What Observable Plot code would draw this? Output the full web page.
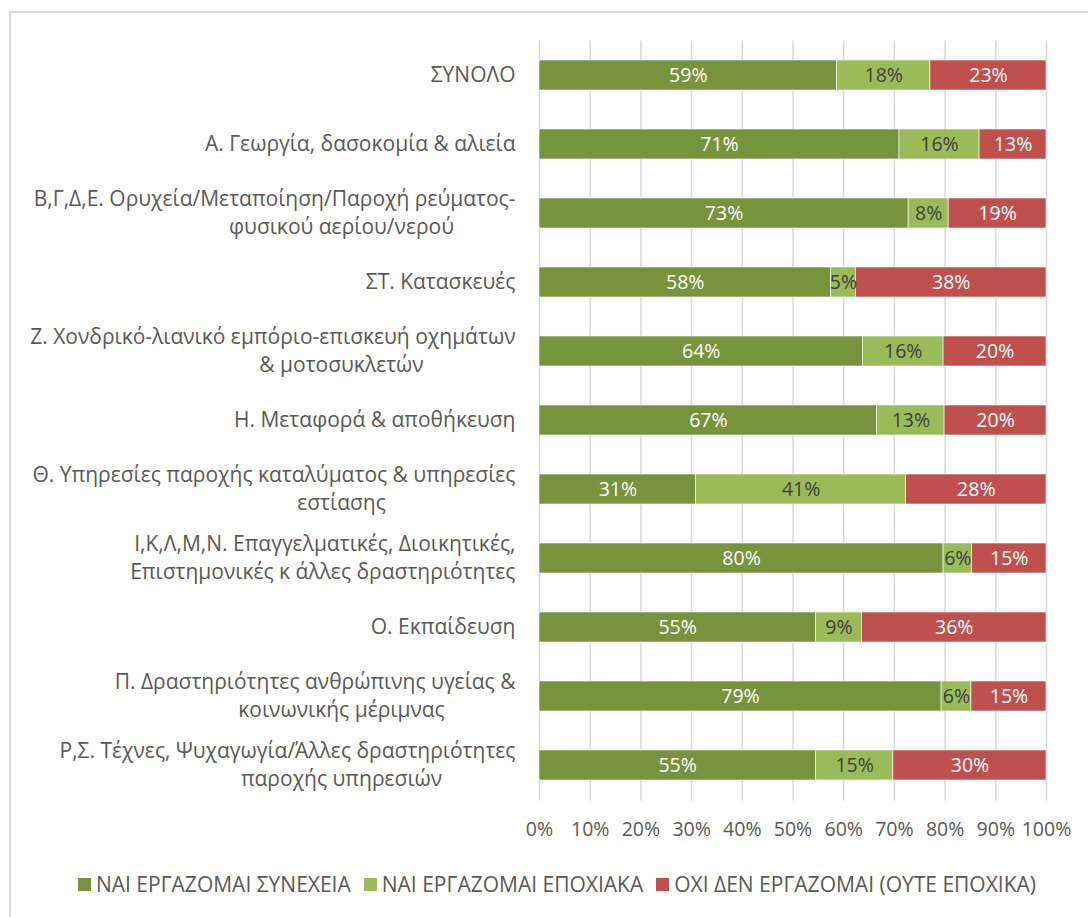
<!DOCTYPE html>
<html>
<head>
<meta charset="utf-8">
<script src="https://cdn.jsdelivr.net/npm/d3@7"></script>
<script src="https://cdn.jsdelivr.net/npm/@observablehq/plot@0.6"></script>
<style>
  html, body { margin: 0; padding: 0; background: #fff; overflow: hidden; width: 1088px; height: 917px; }
  #frame { position: absolute; left: 9px; top: 11px; width: 1200px; height: 1000px; border: 2px solid #d9d9d9; box-sizing: border-box; }
  #chart { position: absolute; left: 0; top: 0; }
  #legend { position: absolute; left: 0; top: 870px; width: 1114px; display: flex; justify-content: center; gap: 13px;
            font-family: "Open Sans", sans-serif; font-size: 21px; color: #595959; line-height: 28px; }
  .item { display: flex; align-items: center; white-space: nowrap; }
  .sw { width: 13px; height: 13px; margin-right: 5px; display: inline-block; }
</style>
</head>
<body>
<div id="frame"></div>
<div id="chart"></div>
<div id="legend"></div>
<script>
const categories = [
  "ΣΥΝΟΛΟ",
  "Α. Γεωργία, δασοκομία & αλιεία",
  "Β,Γ,Δ,Ε. Ορυχεία/Μεταποίηση/Παροχή ρεύματος-\nφυσικού αερίου/νερού",
  "ΣΤ. Κατασκευές",
  "Ζ. Χονδρικό-λιανικό εμπόριο-επισκευή οχημάτων\n& μοτοσυκλετών",
  "Η. Μεταφορά & αποθήκευση",
  "Θ. Υπηρεσίες παροχής καταλύματος & υπηρεσίες\nεστίασης",
  "Ι,Κ,Λ,Μ,Ν. Επαγγελματικές, Διοικητικές,\nΕπιστημονικές κ άλλες δραστηριότητες",
  "Ο. Εκπαίδευση",
  "Π. Δραστηριότητες ανθρώπινης υγείας &\nκοινωνικής μέριμνας",
  "Ρ,Σ. Τέχνες, Ψυχαγωγία/Άλλες δραστηριότητες\nπαροχής υπηρεσιών"
];
const series = ["ΝΑΙ ΕΡΓΑΖΟΜΑΙ ΣΥΝΕΧΕΙΑ", "ΝΑΙ ΕΡΓΑΖΟΜΑΙ ΕΠΟΧΙΑΚΑ", "ΟΧΙ ΔΕΝ ΕΡΓΑΖΟΜΑΙ (ΟΥΤΕ ΕΠΟΧΙΚΑ)"];
const continuous = [58.7, 71.0, 72.8, 57.5, 63.8, 66.6, 30.9, 79.7, 54.5, 79.3, 54.5];
const seasonal   = [18.4, 15.8,  7.9,  4.9, 15.9, 13.3, 41.4,  5.6,  9.1,  5.9, 15.3];
const notWorking = [22.9, 13.2, 19.3, 37.6, 20.3, 20.1, 27.7, 14.7, 36.4, 14.8, 30.2];
const xTicks = [0, 10, 20, 30, 40, 50, 60, 70, 80, 90, 100];
const colors = ["#77933C", "#9BBB59", "#C0504D"];
const labelColors = ["#ffffff", "#404040", "#ffffff"];

const FONT = '"Open Sans", sans-serif';
const FS = 21;        // category labels
const FN = 19.5;      // numbers
const TEXT = "#595959";

const valueSets = [continuous, seasonal, notWorking];
const data = [];
categories.forEach((c, i) => {
  series.forEach((s, j) => data.push({category: c, series: s, value: valueSets[j][i], si: j}));
});

// category label lines
const ctx = document.createElement("canvas").getContext("2d");
ctx.font = `${FS}px ${FONT}`;
const lines = [];
categories.forEach(c => {
  const parts = c.split("\n");
  parts.forEach((t, k) => {
    const multi = parts.length > 1;
    const w = ctx.measureText(t).width;
    lines.push({category: c, text: t, k, multi, center: multi && w < 320});
  });
});
const single = lines.filter(d => !d.multi);
const firstR = lines.filter(d => d.multi && d.k === 0 && !d.center);
const secondR = lines.filter(d => d.multi && d.k === 1 && !d.center);
const secondC = lines.filter(d => d.multi && d.k === 1 && d.center);
const firstC = lines.filter(d => d.multi && d.k === 0 && d.center);

const LS = 13.8;
const labelOpts = {y: "category", text: "text", frameAnchor: "left", fill: TEXT, fontSize: FS};

const W = 1088, H = 850;
const chart = Plot.plot({
  width: W,
  height: H,
  marginLeft: 539,
  marginRight: 42,
  marginTop: 40.5,
  marginBottom: H - 800.5,
  style: {fontFamily: FONT, fontSize: FN + "px", color: TEXT, background: "transparent"},
  x: {domain: [0, 100], ticks: xTicks, tickFormat: d => d + "%", label: null},
  y: {domain: categories, paddingInner: 0.565, paddingOuter: 0.2825, axis: null},
  color: {domain: series, range: colors},
  marks: [
    Plot.gridX(xTicks, {stroke: "#d9d9d9", strokeOpacity: 1, strokeWidth: 1.5}),
    Plot.axisX({ticks: xTicks, tickFormat: d => d + "%", tickSize: 0, tickPadding: 21, fill: TEXT, fontSize: FN, label: null}),
    Plot.barX(data, Plot.stackX({x: "value", y: "category", fill: "series", order: series, stroke: "#fff", strokeWidth: 0.6})),
    Plot.text(data, Plot.stackX({x: "value", y: "category", z: "series", order: series,
      text: d => Math.round(d.value) + "%", fill: d => labelColors[d.si], fontSize: FN})),
    Plot.text(single, {...labelOpts, textAnchor: "end", dx: -24}),
    Plot.text(firstR, {...labelOpts, textAnchor: "end", dx: -24, dy: -LS}),
    Plot.text(secondR, {...labelOpts, textAnchor: "end", dx: -24, dy: LS}),
    Plot.text(firstC, {...labelOpts, textAnchor: "middle", dx: -198, dy: -LS}),
    Plot.text(secondC, {...labelOpts, textAnchor: "middle", dx: -198, dy: LS})
  ]
});
document.getElementById("chart").appendChild(chart);

const legend = document.getElementById("legend");
series.forEach((s, i) => {
  const it = document.createElement("div");
  it.className = "item";
  it.innerHTML = `<span class="sw" style="background:${colors[i]}"></span><span>${s}</span>`;
  legend.appendChild(it);
});
</script>
</body>
</html>
